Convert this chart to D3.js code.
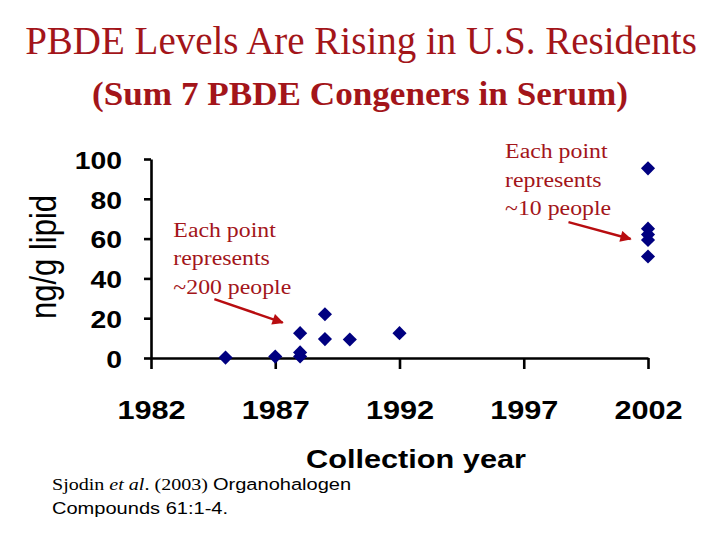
<!DOCTYPE html>
<html>
<head>
<meta charset="utf-8">
<script src="https://cdn.jsdelivr.net/npm/d3@7"></script>
<style>
  body { margin: 0; background: #fff; }
  svg { display: block; }
</style>
</head>
<body>
<div id="chart"></div>
<script>
// data
var years  = [1985, 1987, 1988, 1988, 1988, 1989, 1989, 1990, 1992, 2002, 2002, 2002, 2002, 2002];
var values = [0.2, 0.7, 12.5, 2.8, 0.8, 22, 9.5, 9.3, 12.5, 95.3, 65, 62, 59.3, 51];

var yTicks = [0, 20, 40, 60, 80, 100];
var xTicks = [1982, 1987, 1992, 1997, 2002];

var titleText = "PBDE Levels Are Rising in U.S. Residents";
var subtitleText = "(Sum 7 PBDE Congeners in Serum)";
var yLabel = "ng/g lipid";
var xLabel = "Collection year";

// annotations, in data coordinates
var notes = [
  { lines: ["Each point", "represents", "~200 people"], year: 1982.9, value: 61,
    from: [1984.55, 29.6], to: [1987.3, 17.8] },
  { lines: ["Each point", "represents", "~10 people"], year: 1996.25, value: 100.3,
    from: [1998.8, 68.3], to: [2001.3, 59.8] }
];

var svgWidth = 720;
var svgHeight = 540;
var red = "#a3151a";
var navy = "#000080";
var serif = "'Liberation Serif', 'Times New Roman', serif";
var sans = "'Liberation Sans', Arial, sans-serif";
var stretch = 1.18; // the chart text on the slide is a bit wide

var svg = d3.select("#chart").append("svg")
  .attr("width", svgWidth)
  .attr("height", svgHeight);

var x = d3.scaleLinear().domain([1982, 2002]).range([151, 648]);
var y = d3.scaleLinear().domain([0, 100]).range([358, 159]);

// title + subtitle
svg.append("text")
  .attr("x", 361)
  .attr("y", 54)
  .attr("text-anchor", "middle")
  .style("font-family", serif)
  .style("font-size", "39px")
  .style("fill", red)
  .text(titleText);

svg.append("text")
  .attr("transform", "translate(360,105) scale(1.065,1)")
  .attr("text-anchor", "middle")
  .style("font-family", serif)
  .style("font-weight", "bold")
  .style("font-size", "33px")
  .style("fill", red)
  .text(subtitleText);

// axes
var yAxis = d3.axisLeft(y).tickValues(yTicks).tickSize(7).tickSizeOuter(0);
var xAxis = d3.axisBottom(x).tickValues(xTicks).tickSize(11).tickSizeOuter(0)
  .tickFormat(d3.format("d"));

var yG = svg.append("g")
  .attr("transform", "translate(151,0)")
  .call(yAxis);

var xG = svg.append("g")
  .attr("transform", "translate(0,358)")
  .call(xAxis);

[yG, xG].forEach(function(g) {
  g.select(".domain").attr("stroke", "#000").attr("stroke-width", 2.6);
  g.selectAll(".tick line").attr("stroke", "#000").attr("stroke-width", 2.6);
  g.selectAll("text")
    .style("font-family", sans)
    .style("font-weight", "bold")
    .style("fill", "#000");
});

yG.selectAll("text")
  .attr("x", 0)
  .attr("dy", null)
  .attr("dominant-baseline", "central")
  .attr("transform", "translate(-29,1) scale(" + stretch + ",1)")
  .style("font-size", "24px");

xG.selectAll("text")
  .attr("y", 0)
  .attr("dy", null)
  .attr("transform", "translate(0,61) scale(" + stretch + ",1)")
  .style("font-size", "26px");

// axis titles
svg.append("text")
  .attr("transform", "translate(56,257) scale(1.2,1) rotate(-90)")
  .attr("text-anchor", "middle")
  .style("font-family", sans)
  .style("font-size", "31px")
  .text(yLabel);

svg.append("text")
  .attr("transform", "translate(416,468) scale(" + stretch + ",1)")
  .attr("text-anchor", "middle")
  .style("font-family", sans)
  .style("font-weight", "bold")
  .style("font-size", "26px")
  .text(xLabel);

// annotations
svg.append("defs").append("marker")
  .attr("id", "head")
  .attr("viewBox", "0 0 10 10")
  .attr("refX", 9)
  .attr("refY", 5)
  .attr("markerWidth", 5)
  .attr("markerHeight", 4.5)
  .attr("markerUnits", "strokeWidth")
  .attr("orient", "auto")
  .append("path")
  .attr("d", "M0,0 L10,5 L0,10 Z")
  .attr("fill", "#b80d10");

notes.forEach(function(n) {
  var t = svg.append("text")
    .attr("transform", "translate(" + x(n.year) + "," + y(n.value) + ") scale(1.19,1)")
    .style("font-family", serif)
    .style("font-size", "20px")
    .style("fill", red);
  n.lines.forEach(function(line, i) {
    t.append("tspan").attr("x", 0).attr("y", i * 28.5).text(line);
  });

  svg.append("line")
    .attr("x1", x(n.from[0]))
    .attr("y1", y(n.from[1]))
    .attr("x2", x(n.to[0]))
    .attr("y2", y(n.to[1]))
    .attr("stroke", "#b80d10")
    .attr("stroke-width", 2.5)
    .attr("marker-end", "url(#head)");
});

// points
var points = years.map(function(yr, i) { return { year: yr, value: values[i] }; });

svg.append("g").selectAll("path")
  .data(points)
  .enter()
  .append("path")
  .attr("d", d3.symbol().type(d3.symbolSquare).size(100))
  .attr("transform", function(d) { return "translate(" + x(d.year) + "," + y(d.value) + ") rotate(45)"; })
  .attr("fill", navy);

// citation (Times for the authors, Arial for the journal)
var cite = svg.append("g").attr("transform", "translate(52,0) scale(" + stretch + ",1)");

var c1 = cite.append("text")
  .attr("x", 0)
  .attr("y", 490)
  .style("font-family", serif)
  .style("font-size", "17px");
c1.append("tspan").text("Sjodin ");
c1.append("tspan").style("font-style", "italic").text("et al");
c1.append("tspan").text(". (2003) ");
c1.append("tspan").style("font-family", sans).text("Organohalogen");

cite.append("text")
  .attr("x", 0)
  .attr("y", 514)
  .style("font-family", sans)
  .style("font-size", "17px")
  .text("Compounds 61:1-4.");
</script>
</body>
</html>
